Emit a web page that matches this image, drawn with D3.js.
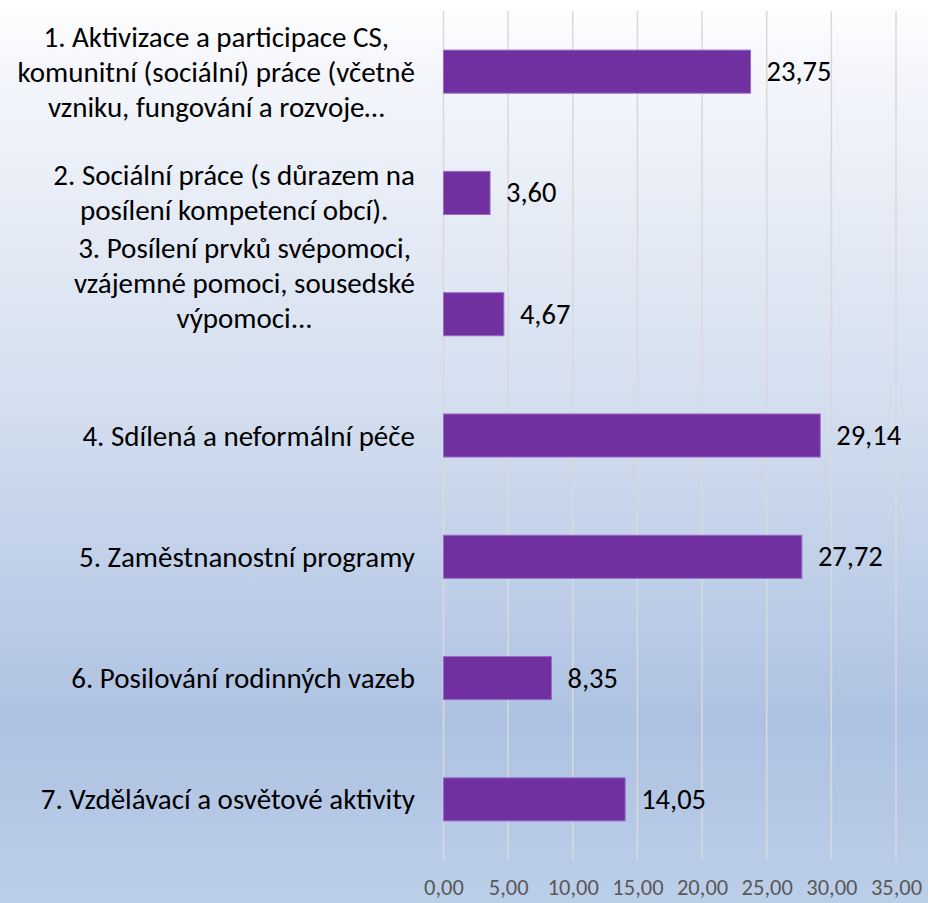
<!DOCTYPE html>
<html>
<head>
<meta charset="utf-8">
<script src="https://cdn.jsdelivr.net/npm/d3@7"></script>
<style>
  html, body { margin: 0; padding: 0; }
  svg { display: block; font-family: Carlito, Calibri, Lato, sans-serif; }
</style>
</head>
<body>
<svg id="chart"></svg>
<script>
// ── Data ──────────────────────────────────────────────────────────────────────
const categories = [
  ['1. Aktivizace a participace CS,', 'komunitní (sociální) práce (včetně', 'vzniku, fungování a rozvoje…'],
  ['2. Sociální práce (s důrazem na', 'posílení kompetencí obcí).'],
  ['3. Posílení prvků svépomoci,', 'vzájemné pomoci, sousedské', 'výpomoci...'],
  ['4. Sdílená a neformální péče'],
  ['5. Zaměstnanostní programy'],
  ['6. Posilování rodinných vazeb'],
  ['7. Vzdělávací a osvětové aktivity']
];
const values = [23.75, 3.60, 4.67, 29.14, 27.72, 8.35, 14.05];
const xTicks = [0, 5, 10, 15, 20, 25, 30, 35];

// ── Layout ────────────────────────────────────────────────────────────────────
const W = 928, H = 903;
const plot = { left: 443.5, right: 896, top: 11, bottom: 860 };
const labelRight = 415;
const lineH = 35;

const fmt = v => v.toFixed(2).replace('.', ',');

const svg = d3.select('#chart')
  .attr('width', W)
  .attr('height', H)
  .attr('viewBox', `0 0 ${W} ${H}`);

// background gradient (white → light blue)
const grad = svg.append('defs').append('linearGradient')
  .attr('id', 'bg')
  .attr('x1', 0).attr('y1', 0).attr('x2', 0).attr('y2', 1);
[[0, '#ffffff'], [0.08, '#f4f6fb'], [0.45, '#d3deef'], [0.8, '#adc2e2'], [1, '#bccfe9']]
  .forEach(([o, c]) => grad.append('stop').attr('offset', o).attr('stop-color', c));

svg.append('rect')
  .attr('width', W).attr('height', H)
  .attr('fill', 'url(#bg)');

const x = d3.scaleLinear()
  .domain([0, 35])
  .range([plot.left, plot.right]);

const y = d3.scaleBand()
  .domain(d3.range(values.length))
  .range([plot.top, plot.bottom])
  .paddingInner(0.645)
  .paddingOuter(0.3225);

// ── Gridlines ─────────────────────────────────────────────────────────────────
svg.append('g')
  .attr('class', 'grid')
  .selectAll('line')
  .data(xTicks)
  .join('line')
    .attr('x1', d => x(d)).attr('x2', d => x(d))
    .attr('y1', plot.top).attr('y2', plot.bottom)
    .attr('stroke', '#d9d9d9')
    .attr('stroke-width', 1.5);

// ── X axis labels ─────────────────────────────────────────────────────────────
const xAxis = d3.axisBottom(x)
  .tickValues(xTicks)
  .tickFormat(fmt)
  .tickSize(0)
  .tickPadding(19);

const gx = svg.append('g')
  .attr('transform', `translate(0,${plot.bottom})`)
  .call(xAxis);
gx.select('.domain').remove();
gx.selectAll('text')
  .attr('font-family', 'Carlito, Calibri, Lato, sans-serif')
  .attr('font-size', 22.5)
  .attr('fill', '#595959');

// ── Bars ──────────────────────────────────────────────────────────────────────
svg.append('g')
  .selectAll('rect')
  .data(values)
  .join('rect')
    .attr('x', x(0))
    .attr('y', (d, i) => y(i))
    .attr('width', d => x(d) - x(0))
    .attr('height', y.bandwidth())
    .attr('fill', '#7030a0')
    .attr('stroke', '#9a6ac4')
    .attr('stroke-width', 1);

// ── Value labels ──────────────────────────────────────────────────────────────
svg.append('g')
  .selectAll('text')
  .data(values)
  .join('text')
    .attr('x', d => x(d) + 16)
    .attr('y', (d, i) => y(i) + y.bandwidth() / 2)
    .attr('dominant-baseline', 'central')
    .attr('font-size', 28.5)
    .attr('fill', '#000')
    .text(fmt);

// ── Category labels (wrapped, centred block, right-aligned to axis) ───────────
// label 3 sits higher than its bar in the original
const blockShift = { 2: -31 };

const catG = svg.append('g').attr('class', 'cat-labels');
categories.forEach((lines, i) => {
  const g = catG.append('g');
  const texts = g.selectAll('text')
    .data(lines)
    .join('text')
      .attr('font-size', 29)
      .attr('fill', '#000')
      .attr('dominant-baseline', 'central')
      .text(d => d);
  const maxW = d3.max(texts.nodes(), n => n.getComputedTextLength());
  const cy = y(i) + y.bandwidth() / 2 + (blockShift[i] || 0);
  const top = cy - (lines.length - 1) * lineH / 2;
  texts
    .attr('text-anchor', 'middle')
    .attr('x', labelRight - maxW / 2)
    .attr('y', (d, j) => top + j * lineH);
});
</script>
</body>
</html>
